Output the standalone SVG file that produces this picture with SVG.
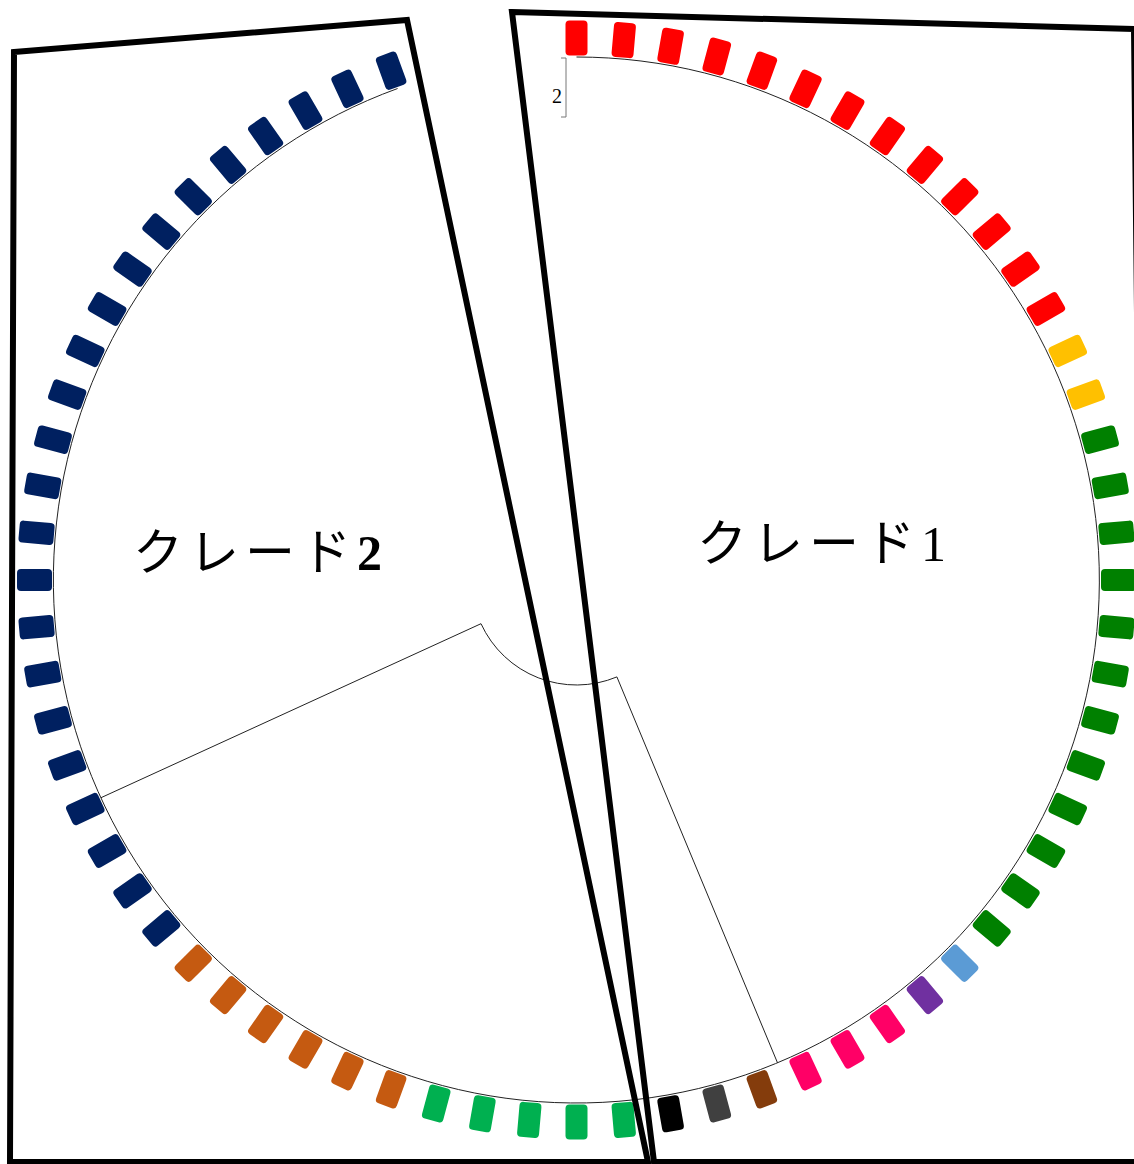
<svg xmlns="http://www.w3.org/2000/svg" xmlns:xlink="http://www.w3.org/1999/xlink" width="1134" height="1164" viewBox="0 0 1134 1164">
<style>
.frame{fill:none;stroke:#000;stroke-width:6;stroke-linejoin:miter}
.label{font-family:"Liberation Serif","Noto Sans CJK JP",serif;font-size:50px;fill:#000;letter-spacing:6px}
.tree{fill:none;stroke:#222;stroke-width:1}
.red{fill:#FF0000}.yel{fill:#FFC000}.grn{fill:#008000}.lbl{fill:#5B9BD5}.pur{fill:#7030A0}.pnk{fill:#FF0066}.brn{fill:#843C0C}.gry{fill:#404040}.blk{fill:#000000}.lgr{fill:#00B050}.org{fill:#C55A11}.nav{fill:#002060}
</style>
<defs>
<rect id="t" x="1101" y="569" width="35" height="22" rx="4"/>
</defs>
<rect width="1134" height="1164" fill="#fff"/>
<g id="connectors">
<path class="tree" d="M576.5,57 A523,523 0 1 1 397.6,88.5"/>
<path class="tree" d="M777.5,1062.8 L616.9,676.9 A105,105 0 0 1 481,623.7 L101,797.7" stroke="#333" stroke-width="0.9"/>
</g>
<g id="scale">
<path d="M561,58 H566 V117 H561" fill="none" stroke="#777" stroke-width="1"/>
<text x="552" y="103" font-family="Liberation Serif, serif" font-size="20">2</text>
</g>
<g id="tips">
<use id="tip0" href="#t" class="red" transform="rotate(-90 576.5 580)"/>
<use id="tip1" href="#t" class="red" transform="rotate(-85 576.5 580)"/>
<use id="tip2" href="#t" class="red" transform="rotate(-80 576.5 580)"/>
<use id="tip3" href="#t" class="red" transform="rotate(-75 576.5 580)"/>
<use id="tip4" href="#t" class="red" transform="rotate(-70 576.5 580)"/>
<use id="tip5" href="#t" class="red" transform="rotate(-65 576.5 580)"/>
<use id="tip6" href="#t" class="red" transform="rotate(-60 576.5 580)"/>
<use id="tip7" href="#t" class="red" transform="rotate(-55 576.5 580)"/>
<use id="tip8" href="#t" class="red" transform="rotate(-50 576.5 580)"/>
<use id="tip9" href="#t" class="red" transform="rotate(-45 576.5 580)"/>
<use id="tip10" href="#t" class="red" transform="rotate(-40 576.5 580)"/>
<use id="tip11" href="#t" class="red" transform="rotate(-35 576.5 580)"/>
<use id="tip12" href="#t" class="red" transform="rotate(-30 576.5 580)"/>
<use id="tip13" href="#t" class="yel" transform="rotate(-25 576.5 580)"/>
<use id="tip14" href="#t" class="yel" transform="rotate(-20 576.5 580)"/>
<use id="tip15" href="#t" class="grn" transform="rotate(-15 576.5 580)"/>
<use id="tip16" href="#t" class="grn" transform="rotate(-10 576.5 580)"/>
<use id="tip17" href="#t" class="grn" transform="rotate(-5 576.5 580)"/>
<use id="tip18" href="#t" class="grn" transform="rotate(0 576.5 580)"/>
<use id="tip19" href="#t" class="grn" transform="rotate(5 576.5 580)"/>
<use id="tip20" href="#t" class="grn" transform="rotate(10 576.5 580)"/>
<use id="tip21" href="#t" class="grn" transform="rotate(15 576.5 580)"/>
<use id="tip22" href="#t" class="grn" transform="rotate(20 576.5 580)"/>
<use id="tip23" href="#t" class="grn" transform="rotate(25 576.5 580)"/>
<use id="tip24" href="#t" class="grn" transform="rotate(30 576.5 580)"/>
<use id="tip25" href="#t" class="grn" transform="rotate(35 576.5 580)"/>
<use id="tip26" href="#t" class="grn" transform="rotate(40 576.5 580)"/>
<use id="tip27" href="#t" class="lbl" transform="rotate(45 576.5 580)"/>
<use id="tip28" href="#t" class="pur" transform="rotate(50 576.5 580)"/>
<use id="tip29" href="#t" class="pnk" transform="rotate(55 576.5 580)"/>
<use id="tip30" href="#t" class="pnk" transform="rotate(60 576.5 580)"/>
<use id="tip31" href="#t" class="pnk" transform="rotate(65 576.5 580)"/>
<use id="tip32" href="#t" class="brn" transform="rotate(70 576.5 580)"/>
<use id="tip33" href="#t" class="gry" transform="rotate(75 576.5 580)"/>
<use id="tip34" href="#t" class="blk" transform="rotate(80 576.5 580)"/>
<use id="tip35" href="#t" class="lgr" transform="rotate(85 576.5 580)"/>
<use id="tip36" href="#t" class="lgr" transform="rotate(90 576.5 580)"/>
<use id="tip37" href="#t" class="lgr" transform="rotate(95 576.5 580)"/>
<use id="tip38" href="#t" class="lgr" transform="rotate(100 576.5 580)"/>
<use id="tip39" href="#t" class="lgr" transform="rotate(105 576.5 580)"/>
<use id="tip40" href="#t" class="org" transform="rotate(110 576.5 580)"/>
<use id="tip41" href="#t" class="org" transform="rotate(115 576.5 580)"/>
<use id="tip42" href="#t" class="org" transform="rotate(120 576.5 580)"/>
<use id="tip43" href="#t" class="org" transform="rotate(125 576.5 580)"/>
<use id="tip44" href="#t" class="org" transform="rotate(130 576.5 580)"/>
<use id="tip45" href="#t" class="org" transform="rotate(135 576.5 580)"/>
<use id="tip46" href="#t" class="nav" transform="rotate(140 576.5 580)"/>
<use id="tip47" href="#t" class="nav" transform="rotate(145 576.5 580)"/>
<use id="tip48" href="#t" class="nav" transform="rotate(150 576.5 580)"/>
<use id="tip49" href="#t" class="nav" transform="rotate(155 576.5 580)"/>
<use id="tip50" href="#t" class="nav" transform="rotate(160 576.5 580)"/>
<use id="tip51" href="#t" class="nav" transform="rotate(165 576.5 580)"/>
<use id="tip52" href="#t" class="nav" transform="rotate(170 576.5 580)"/>
<use id="tip53" href="#t" class="nav" transform="rotate(175 576.5 580)"/>
<use id="tip54" href="#t" class="nav" transform="rotate(180 576.5 580)"/>
<use id="tip55" href="#t" class="nav" transform="rotate(185 576.5 580)"/>
<use id="tip56" href="#t" class="nav" transform="rotate(190 576.5 580)"/>
<use id="tip57" href="#t" class="nav" transform="rotate(195 576.5 580)"/>
<use id="tip58" href="#t" class="nav" transform="rotate(200 576.5 580)"/>
<use id="tip59" href="#t" class="nav" transform="rotate(205 576.5 580)"/>
<use id="tip60" href="#t" class="nav" transform="rotate(210 576.5 580)"/>
<use id="tip61" href="#t" class="nav" transform="rotate(215 576.5 580)"/>
<use id="tip62" href="#t" class="nav" transform="rotate(220 576.5 580)"/>
<use id="tip63" href="#t" class="nav" transform="rotate(225 576.5 580)"/>
<use id="tip64" href="#t" class="nav" transform="rotate(230 576.5 580)"/>
<use id="tip65" href="#t" class="nav" transform="rotate(235 576.5 580)"/>
<use id="tip66" href="#t" class="nav" transform="rotate(240 576.5 580)"/>
<use id="tip67" href="#t" class="nav" transform="rotate(245 576.5 580)"/>
<use id="tip68" href="#t" class="nav" transform="rotate(250 576.5 580)"/>
</g>
<g id="clade2">
<polygon class="frame" points="14,52 407,20 648,1162 10,1162"/>
<text class="label" x="133" y="570">クレード<tspan font-weight="bold">2</tspan></text>
</g>
<g id="clade1">
<polygon class="frame" points="512,12 1134,29 1146,1162 654,1162"/>
<text class="label" x="697" y="561">クレード1</text>
</g>
</svg>
